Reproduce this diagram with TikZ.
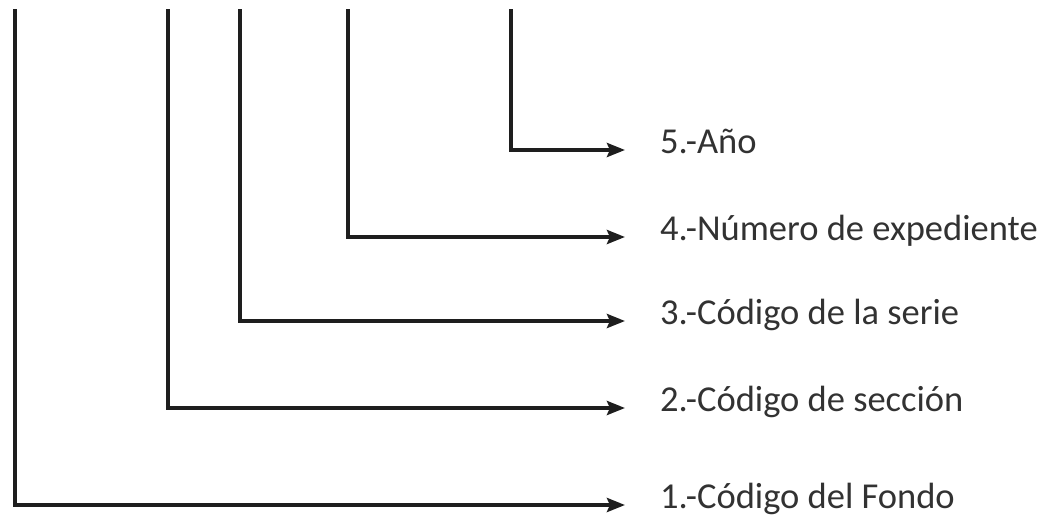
\documentclass[tikz,border=0pt]{standalone}
\usepackage{fontspec}
\setmainfont{Carlito}
\usetikzlibrary{arrows.meta,positioning}
\definecolor{lineink}{RGB}{30,30,30}
\definecolor{textink}{RGB}{50,50,50}
\tikzstyle{arrow} = [line width=4.5pt,-{Stealth[length=18pt,width=14pt,inset=3pt]},color=lineink,shorten >=35pt]
\tikzstyle{partlabel} = [anchor=west, inner sep=0pt, text height=0.72em, text depth=0.1em, font=\fontsize{36.5}{44}\selectfont, text=textink]

\begin{document}
\begin{tikzpicture}[x=1pt,y=-1pt]
\useasboundingbox (0,0) rectangle (1058,525);
% start points at the top
\coordinate (t1) at (15,9);
\coordinate (t2) at (168,9);
\coordinate (t3) at (240,9);
\coordinate (t4) at (348,9);
\coordinate (t5) at (511,9);

% labels
\node[partlabel] (l5) at (660,150) {5.-Año};
\node[partlabel] (l4) at (660,237) {4.-Número de expediente};
\node[partlabel] (l3) at (660,321) {3.-Código de la serie};
\node[partlabel] (l2) at (660,408) {2.-Código de sección};
\node[partlabel] (l1) at (660,505) {1.-Código del Fondo};

% connectors
\draw[arrow] (t5) |- (l5.west);
\draw[arrow] (t4) |- (l4.west);
\draw[arrow] (t3) |- (l3.west);
\draw[arrow] (t2) |- (l2.west);
\draw[arrow] (t1) |- (l1.west);
\end{tikzpicture}
\end{document}
